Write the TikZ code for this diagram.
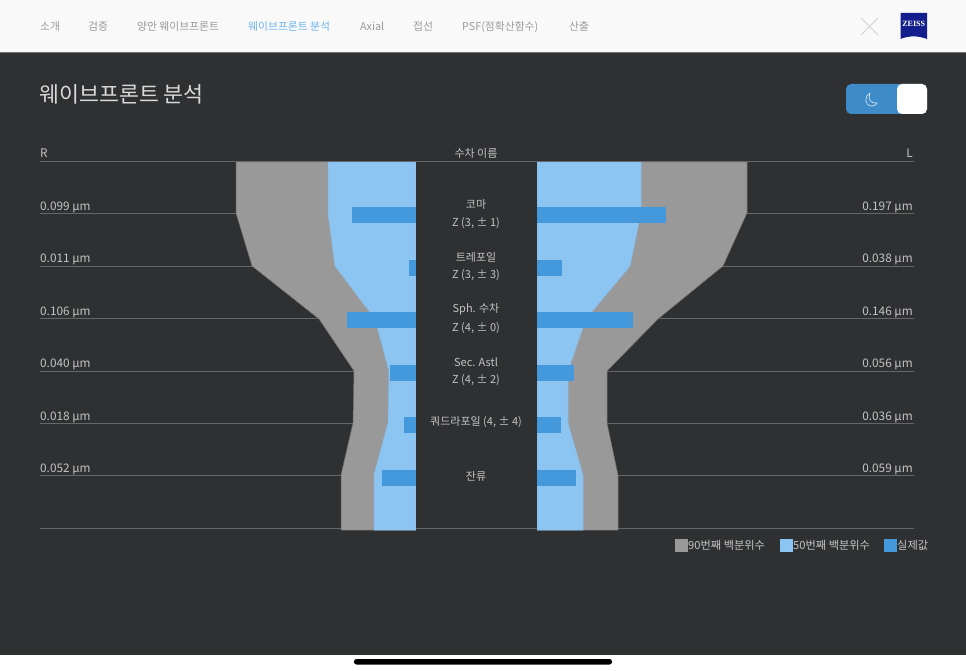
\documentclass[tikz,border=0pt]{standalone}
\usepackage{fontspec}
\setmainfont{Noto Sans CJK KR}
\newfontfamily\zeissfont{Liberation Serif}
\definecolor{topbar}{HTML}{F9F9F9}
\definecolor{panel}{HTML}{2F3032}
\definecolor{rulec}{HTML}{66676A}
\definecolor{txt}{HTML}{C4C4C4}
\definecolor{navc}{HTML}{9A9A9A}
\definecolor{navsel}{HTML}{6DB4EA}
\definecolor{gr}{HTML}{999999}
\definecolor{lb}{HTML}{8CC4F2}
\definecolor{bar}{HTML}{4499DD}
\definecolor{tog}{HTML}{3D8CC9}
\definecolor{zb}{HTML}{141E8C}
\tikzset{
  x=1pt,y=-1pt,
  nav/.style={anchor=base west,inner sep=0,font=\fontsize{10.8}{12}\selectfont,text=navc},
  val/.style={inner sep=0,font=\fontsize{11.8}{13}\selectfont,text=txt},
  lbl/.style={anchor=center,inner sep=0,font=\fontsize{11}{13}\selectfont,text=txt},
  leg/.style={anchor=west,inner sep=0,font=\fontsize{11.2}{12}\selectfont,text=txt},
  hline/.style={draw=rulec,line width=0.8pt},
  grayp/.style={fill=gr,draw=gray!85!black,line width=0.5pt},
  bluep/.style={fill=lb,draw=lb!85!gray,line width=0.5pt},
  barb/.style={fill=bar,draw=none},
  swatch/.style={minimum size=13pt,inner sep=0,draw=none,anchor=north west}
}
\begin{document}
\begin{tikzpicture}
\useasboundingbox (0,0) rectangle (966,671);
\fill[white] (0,0) rectangle (966,671);
\fill[topbar] (0,0) rectangle (966,52);
\fill[panel] (0,52) rectangle (966,655);
\draw[draw=gray!90!black,line width=1pt] (0,52.2) -- (966,52.2);
\fill[black] (354,659) [rounded corners=2.5pt] rectangle (612,664.5);

% navigation
\node[nav] (n1) at (40,30.5) {소개};
\node[nav] (n2) at (88,30.5) {검증};
\node[nav] (n3) at (137,30.5) {양안 웨이브프론트};
\node[nav,text=navsel] (n4) at (248,30.5) {웨이브프론트 분석};
\node[nav] (n5) at (360,30.5) {Axial};
\node[nav] (n6) at (413,30.5) {접선};
\node[nav] (n7) at (462,30.5) {PSF(점확산함수)};
\node[nav] (n8) at (569,30.5) {산출};

% close cross
\draw[draw=black!18,line width=1pt] (861,18) -- (878,35) (878,18) -- (861,35);

% logo
\fill[zb] (900.5,13) -- (927,13) -- (927,39) .. controls (918,35.5) and (909,35.5) .. (900.5,39) -- cycle;
\node[inner sep=0,text=white,font=\zeissfont\bfseries\fontsize{8}{8}\selectfont] (logo) at (913.7,23.5) {ZEISS};

% title
\node[anchor=base west,inner sep=0,font=\fontsize{21.7}{24}\selectfont,text=white!85!black] (title) at (39,103) {웨이브프론트 분석};

% toggle
\fill[tog,rounded corners=5pt] (846,84) rectangle (927,114);
\fill[white,rounded corners=5pt] (897,84) rectangle (927,114);
\draw[draw=white!75!tog,line width=0.7pt,line join=round] (870,93) .. controls (864,96) and (864,106) .. (872,106) .. controls (874,106) and (876,105) .. (877,103) .. controls (871,104) and (867,99) .. (870,93) -- cycle;

% rules
\foreach \yy in {213,266,318.5,371,423,475.5}
  \draw[hline] (40,\yy) -- (914,\yy);
\draw[hline] (40,528.5) -- (914,528.5);

% gray bands
\path[grayp] (236,162) -- (236,213) -- (252,266) -- (319,319) -- (354,371) -- (353,423) -- (341,475) -- (341,530) -- (416,530) -- (416,162) -- cycle;
\path[grayp] (747,162) -- (747,213) -- (723,266) -- (658,319) -- (607,371) -- (607,423) -- (618,475) -- (618,530) -- (537,530) -- (537,162) -- cycle;
% light blue bands
\path[bluep] (328,162) -- (328,213) -- (335,266) -- (375,319) -- (389,371) -- (388,423) -- (374,475) -- (374,530) -- (416,530) -- (416,162) -- cycle;
\path[bluep] (641,162) -- (641,213) -- (630,266) -- (586,319) -- (568,371) -- (568,423) -- (583,475) -- (583,530) -- (537,530) -- (537,162) -- cycle;

% centre column
\fill[panel] (416,162) rectangle (537,530.5);
\draw[hline] (40,161.8) -- (914,161.8);
\draw[hline] (416,528.8) -- (537,528.8);

% bars
\path[barb] (352,207) rectangle (416,223);
\path[barb] (408.5,259.5) rectangle (416,275.5);
\path[barb] (346.5,312) rectangle (416,328);
\path[barb] (390,365) rectangle (416,381);
\path[barb] (404,417) rectangle (416,433);
\path[barb] (382,470) rectangle (416,486);
\path[barb] (537,207) rectangle (666,223);
\path[barb] (537,259.5) rectangle (562,275.5);
\path[barb] (537,312) rectangle (632.5,328);
\path[barb] (537,365) rectangle (574,381);
\path[barb] (537,417) rectangle (560.5,433);
\path[barb] (537,470) rectangle (576,486);

% header labels
\node[val,anchor=west] (hr) at (40,153.5) {R};
\node[lbl] (hc) at (476,153.5) {수차 이름};
\node[val,anchor=east] (hl) at (913,153.5) {L};

% left values
\node[val,anchor=west] (l1) at (40,207) {0.099 µm};
\node[val,anchor=west] (l2) at (40,259.5) {0.011 µm};
\node[val,anchor=west] (l3) at (40,312) {0.106 µm};
\node[val,anchor=west] (l4) at (40,364.5) {0.040 µm};
\node[val,anchor=west] (l5) at (40,417) {0.018 µm};
\node[val,anchor=west] (l6) at (40,469) {0.052 µm};
% right values
\node[val,anchor=east] (r1) at (913,207) {0.197 µm};
\node[val,anchor=east] (r2) at (913,259.5) {0.038 µm};
\node[val,anchor=east] (r3) at (913,312) {0.146 µm};
\node[val,anchor=east] (r4) at (913,364.5) {0.056 µm};
\node[val,anchor=east] (r5) at (913,417) {0.036 µm};
\node[val,anchor=east] (r6) at (913,469) {0.059 µm};

% centre labels
\node[lbl] (c1a) at (476,204.5) {코마};
\node[lbl] (c1b) at (476,223) {Z (3, ± 1)};
\node[lbl] (c2a) at (476,257) {트레포일};
\node[lbl] (c2b) at (476,275.5) {Z (3, ± 3)};
\node[lbl] (c3a) at (476,309.5) {Sph. 수차};
\node[lbl] (c3b) at (476,328) {Z (4, ± 0)};
\node[lbl] (c4a) at (476,362) {Sec. Astl};
\node[lbl] (c4b) at (476,380.5) {Z (4, ± 2)};
\node[lbl] (c5) at (476,422.5) {쿼드라포일 (4, ± 4)};
\node[lbl] (c6) at (476,476.5) {잔류};

% legend
\node[swatch,fill=gr] (s1) at (675,538.5) {};
\node[leg] (t1) at (688,545.5) {90번째 백분위수};
\node[swatch,fill=lb] (s2) at (780,538.5) {};
\node[leg] (t2) at (793,545.5) {50번째 백분위수};
\node[swatch,fill=bar] (s3) at (884,538.5) {};
\node[leg] (t3) at (897,545.5) {실제값};
\end{tikzpicture}
\end{document}
